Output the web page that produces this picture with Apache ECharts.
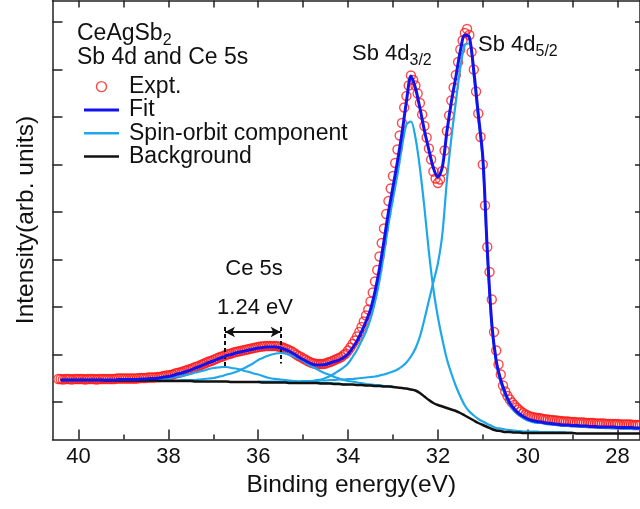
<!DOCTYPE html>
<html>
<head>
<meta charset="utf-8">
<script src="https://cdn.jsdelivr.net/npm/echarts@6.0.0/dist/echarts.min.js"></script>
<style>
html,body{margin:0;padding:0;background:#fff;}
#chart{width:640px;height:509px;}
</style>
</head>
<body>
<div id="chart"></div>
<script>
// ---------------- data ----------------
// Binding-energy grids (eV): experiment sampled every 0.05 eV, fitted curves every 0.1 eV
const EXPT_START = 40.45, EXPT_STEP = 0.05;
const LINE_START = 40.4, LINE_STEP = 0.1;

// Experimental intensity (arb. units), 40.45 -> 27.50 eV
const exptIntensity = [
  121,121,120,121,121,121,120,121,121,121,
  121,121,120,121,121,121,121,120,121,121,
  121,121,121,121,121,121,122,122,122,122,
  122,122,122,122,122,122,123,123,123,
  123,124,124,124,124,125,125,126,127,128,
  128,129,130,132,133,134,135,137,138,140,
  141,143,145,146,148,150,152,154,156,157,
  159,161,163,165,166,168,170,171,172,174,
  175,176,177,178,179,180,181,182,183,184,
  185,186,186,187,187,187,187,187,187,186,
  185,184,182,180,178,176,173,170,167,165,
  162,160,157,155,153,152,151,151,151,151,
  152,154,155,157,
  159,161,163,165,169,172,178,184,191,198,
  206,215,225,236,248,260,276,294,316,339,
  366,393,422,451,477,502,527,553,580,608,
  633,664,687,708,728,
  719,708,692,673,650,627,604,582,560,536,
  522,513,520,537,578,617,648,678,704,729,
  755,780,798,813,821,809,775,740,696,652,
  605,550,468,385,335,280,215,178,150,130,
  108,96,87,80,74,69,64,60,56,53,
  50,48,
  46,45,44,43,43,42,41,40,40,39,
  39,38,38,37,37,36,36,36,35,35,
  35,34,34,34,34,33,33,33,33,32,
  32,32,32,32,31,31,31,31,31,31,
  30,30,30,30,30,30,29,29,29,29
];

// Total fit, 40.4 -> 27.5 eV
const fitIntensity = [
  119,119,119,119,119,119,119,119,119,119,
  119,119,119,120,120,120,120,120,121,121,
  122,122,123,125,126,128,131,133,136,139,
  143,146,150,154,157,161,164,168,170,173,
  175,177,179,181,183,184,185,185,185,183,
  180,176,171,165,160,155,151,149,149,150,
  153,156,159,164,171,183,197,215,236,260,
  296,342,397,455,505,556,612,676,727,703,
  663,618,579,543,525,545,615,675,725,777,
  809,805,737,650,565,379,232,157,119,93,
  73,61,52,46,41,38,36,35,33,32,
  31,30,29,29,28,28,27,27,26,26,
  25,25,25,25,24,24,24,24,23,23
];

// Background, 40.4 -> 27.5 eV
const backgroundIntensity = [
  119,119,119,119,119,119,119,119,119,119,
  118,118,118,118,118,118,118,118,118,118,
  118,118,117,117,117,117,117,117,117,117,
  116,116,116,116,116,116,116,116,115,115,
  115,115,115,115,115,114,114,114,114,114,
  114,113,113,113,113,113,113,113,112,112,
  112,111,111,110,110,110,109,109,108,108,
  107,107,106,106,105,104,103,102,100,98,
  93,86,79,73,69,66,63,60,57,53,
  48,43,38,33,29,25,21,18,17,15,
  15,14,14,13,13,13,13,13,13,13,
  13,13,13,13,13,12,12,12,12,12,
  12,12,12,12,12,12,12,12,12,12
];

// Spin-orbit components (each on the 0.1 eV grid from its own start energy)
const ce5sAStart = 39.0;
const ce5sA = [
  119,119,120,120,120,121,121,122,122,122,
  123,124,126,127,129,131,134,136,138,141,
  143,144,145,145,143,142,140,137,135,132,
  130,127,124,122,121,120,119,118,117,116,
  116,115,115,115,113,113,113,112,112,110,
  110
];
const ce5sBStart = 38.5;
const ce5sB = [
  118,118,118,118,118,118,118,118,119,119,
  119,119,120,121,122,123,125,127,130,132,
  135,139,143,148,153,159,163,167,170,172,
  173,172,169,166,162,157,151,146,141,136,
  132,129,125,122,119,117,116,114,113,111,
  110,109,109,107,107,106
];
const sb4d32Start = 35.6;
const sb4d32 = [
  115,115,115,115,115,115,116,116,117,119,
  120,123,127,132,138,144,152,165,179,197,
  216,241,275,318,372,430,481,530,585,630,
  636,604,543,464,375,301,245,200,161,132,
  107,86,68,56,48,41,36,31,27,23,
  22,20,19,18,17,16,16,16,16,15,
  15,15,15,15,15,14,14
];
const sb4d52Start = 36.0;
const sb4d52 = [
  116,116,116,116,116,116,116,116,116,116,
  117,117,117,117,118,118,119,119,120,120,
  121,121,122,123,124,125,126,128,130,133,
  136,140,146,154,166,182,206,240,278,315,
  352,411,517,603,675,744,789,792,727,642,
  558,373,226,152,114,88,69,57,49,43,
  38,35,33,33,31,30,29,28,27,27,
  26,26,25,25,24,24,23,23,23,22,
  22,22,21,21,21,21
];

// Ce 5s splitting marker (eV) and its vertical extent (intensity units)
const ce5sPeaks = [36.74, 35.50];
const markerTop = 225, markerBottoms = [143, 152], arrowLevel = 215;

// Axis ticks
const xMajorTicks = [28, 30, 32, 34, 36, 38, 40];
const xMinorTicks = [29, 31, 33, 35, 37, 39];
const xTopTicks = [28, 29, 30, 31, 32, 33, 34, 35, 36, 37, 38, 39, 40];
const yTicks = [75, 170, 265, 360, 455, 550, 645, 740, 835];
const X_MIN = 27.5, X_MAX = 40.58, Y_MIN = 0, Y_MAX = 878;

// ---------------- helpers ----------------
function pairs(start, step, values) {
  return values.map((v, i) => [Math.round((start - i * step) * 100) / 100, v]);
}
const FONT = '"Liberation Sans", Arial, Helvetica, sans-serif';
const measureCtx = document.createElement('canvas').getContext('2d');
function textWidth(str, size) {
  measureCtx.font = size + 'px ' + FONT;
  return measureCtx.measureText(str).width;
}
function txt(x, y, text, size, align) {
  return { type: 'text', x: x, y: y, silent: true, z: 50,
    style: { text: text, fontSize: size, fontFamily: FONT, fill: '#111',
             align: align || 'left', verticalAlign: 'middle' } };
}

const AXIS_COLOR = '#222';
const axisLine = { show: true, onZero: false, lineStyle: { color: AXIS_COLOR, width: 1.5 } };
const tickStyle = { color: AXIS_COLOR, width: 1.5 };

const RED = '#ff1a1a', BLUE = '#1212ee', COMP_COLOR = '#1ea7ea', BG_COLOR = '#111';
function compSeries(start, values) {
  return { type: 'line', name: 'Spin-orbit component', data: pairs(start, LINE_STEP, values),
    symbol: 'none', showSymbol: false, smooth: 0.3, z: 3, silent: true,
    lineStyle: { color: COMP_COLOR, width: 2.2 }, itemStyle: { color: COMP_COLOR } };
}

// ---------------- chart ----------------
const chart = echarts.init(document.getElementById('chart'), null, { renderer: 'canvas' });

const graphic = [];
graphic.push(txt(77, 34, 'CeAgSb', 23));
graphic.push(txt(77 + textWidth('CeAgSb', 23), 40.5, '2', 16));
graphic.push(txt(77, 57.5, 'Sb 4d and Ce 5s', 23));
graphic.push(txt(352, 53.5, 'Sb 4d', 22));
graphic.push(txt(352 + textWidth('Sb 4d', 22), 60.5, '3/2', 16));
graphic.push(txt(478, 45, 'Sb 4d', 22));
graphic.push(txt(478 + textWidth('Sb 4d', 22), 52, '5/2', 16));
graphic.push(txt(254, 268.5, 'Ce 5s', 22, 'center'));
graphic.push(txt(255, 307.5, '1.24 eV', 22, 'center'));

const LINE_ICON_THICK = 'path://M0,0H35V3H0Z';
const LINE_ICON = 'path://M0,0H70V5H0Z';

const option = {
  animation: false,
  backgroundColor: '#fff',
  grid: { left: 52.5, right: -1, top: 0.5, bottom: 69.5, containLabel: false },
  legend: {
    orient: 'vertical', left: 79, top: 70, itemWidth: 35, itemHeight: 10, itemGap: 0,
    selectedMode: false, symbolKeepAspect: true,
    textStyle: { fontSize: 23, color: '#111', fontFamily: FONT, lineHeight: 23.3, padding: [0, 0, 0, 5] },
    data: [
      { name: 'Expt.', itemStyle: { borderWidth: 1.4 } },
      { name: 'Fit', icon: LINE_ICON_THICK, itemStyle: { color: BLUE, borderWidth: 0 } },
      { name: 'Spin-orbit component', icon: LINE_ICON, itemStyle: { color: COMP_COLOR, borderWidth: 0 } },
      { name: 'Background', icon: LINE_ICON, itemStyle: { color: BG_COLOR, borderWidth: 0 } }
    ]
  },
  xAxis: [
    { type: 'value', position: 'bottom', min: X_MIN, max: X_MAX, inverse: true,
      axisLine: axisLine,
      axisTick: { show: true, inside: true, length: 10, customValues: xMajorTicks, lineStyle: tickStyle },
      axisLabel: { show: true, customValues: xMajorTicks, margin: 6, fontSize: 22, color: '#111', fontFamily: FONT },
      splitLine: { show: false },
      name: 'Binding energy(eV)', nameLocation: 'middle', nameGap: 33,
      nameTextStyle: { fontSize: 24.5, color: '#111', fontFamily: FONT, padding: [0, 0, 0, 10] } },
    { type: 'value', position: 'bottom', min: X_MIN, max: X_MAX, inverse: true,
      axisLine: { show: false },
      axisTick: { show: true, inside: true, length: 5, customValues: xMinorTicks, lineStyle: tickStyle },
      axisLabel: { show: false }, splitLine: { show: false } },
    { type: 'value', position: 'top', min: X_MIN, max: X_MAX, inverse: true,
      axisLine: axisLine,
      axisTick: { show: true, inside: true, length: 7, customValues: xTopTicks, lineStyle: tickStyle },
      axisLabel: { show: false }, splitLine: { show: false } }
  ],
  yAxis: [
    { type: 'value', position: 'left', min: Y_MIN, max: Y_MAX,
      axisLine: axisLine,
      axisTick: { show: true, inside: true, length: 10, customValues: yTicks, lineStyle: tickStyle },
      axisLabel: { show: false }, splitLine: { show: false },
      name: 'Intensity(arb. units)', nameLocation: 'middle', nameGap: 14,
      nameTextStyle: { fontSize: 24.5, color: '#111', fontFamily: FONT } },
    { type: 'value', position: 'right', min: Y_MIN, max: Y_MAX,
      axisLine: axisLine,
      axisTick: { show: true, inside: true, length: 5, customValues: yTicks, lineStyle: tickStyle },
      axisLabel: { show: false }, splitLine: { show: false } }
  ],
  series: [
    { type: 'scatter', name: 'Expt.', data: pairs(EXPT_START, EXPT_STEP, exptIntensity),
      symbol: 'circle', symbolSize: 9, z: 2, silent: true,
      itemStyle: { color: 'rgba(255,255,255,0)', borderColor: RED, borderWidth: 1.4 } },
    compSeries(ce5sAStart, ce5sA),
    compSeries(ce5sBStart, ce5sB),
    compSeries(sb4d32Start, sb4d32),
    compSeries(sb4d52Start, sb4d52),
    { type: 'line', name: 'Background', data: pairs(LINE_START, LINE_STEP, backgroundIntensity),
      symbol: 'none', showSymbol: false, smooth: 0.3, z: 4, silent: true,
      lineStyle: { color: BG_COLOR, width: 2.5 }, itemStyle: { color: BG_COLOR },
      markLine: {
        silent: true, symbol: 'none', label: { show: false }, animation: false,
        lineStyle: { color: '#111', width: 2, type: [4, 3] },
        emphasis: { disabled: true },
        data: [
          [{ coord: [ce5sPeaks[0], markerTop] }, { coord: [ce5sPeaks[0], markerBottoms[0]] }],
          [{ coord: [ce5sPeaks[1], markerTop] }, { coord: [ce5sPeaks[1], markerBottoms[1]] }]
        ]
      } },
    { type: 'line', name: 'Fit', data: pairs(LINE_START, LINE_STEP, fitIntensity),
      symbol: 'none', showSymbol: false, smooth: 0.3, z: 5, silent: true,
      lineStyle: { color: BLUE, width: 3 }, itemStyle: { color: BLUE },
      markLine: {
        silent: true, symbol: ['arrow', 'arrow'], symbolSize: [8, 10], label: { show: false },
        animation: false, emphasis: { disabled: true },
        lineStyle: { color: '#111', width: 2, type: 'solid' },
        data: [[{ coord: [ce5sPeaks[0], arrowLevel] }, { coord: [ce5sPeaks[1], arrowLevel] }]]
      } }
  ],
  graphic: graphic
};
chart.setOption(option);
</script>
</body>
</html>
